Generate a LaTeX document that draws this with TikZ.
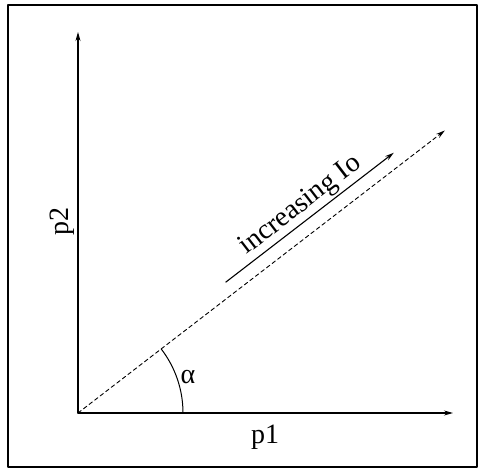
\documentclass[tikz,border=0pt]{standalone}
\usepackage{fontspec}
\setmainfont{Liberation Serif}
\usetikzlibrary{arrows.meta,calc}

\begin{document}
\begin{tikzpicture}[x=1pt, y=1pt, line cap=round, line join=round,
		>={Stealth[length=9pt,width=5pt]},
		lbl/.style={font=\fontsize{28}{32}\selectfont, inner sep=1pt}]
	% Define the slope of the dashed ray and the picture bounds
	\def\ang{37.6}
	\def\xmin{-78} \def\xmax{401}
	\def\ymin{-57} \def\ymax{413}
	\useasboundingbox (\xmin,\ymin) rectangle (\xmax,\ymax);
	
	% Outer frame
	\draw[line width=1.6pt] (-70,-54) rectangle (399,408);
	
	% Key points
	\coordinate (O) at (0,0);
	\coordinate (xend) at (375,0);
	\coordinate (yend) at (0,381);
	\coordinate (dend) at (\ang:463);
	\coordinate (a1) at ($(\ang:197)+(\ang+90:13.5)$);
	\coordinate (a2) at ($(\ang:409)+(\ang+90:13.5)$);
	
	% Coordinate axes
	\draw[->, line width=1.1pt] (O) -- (xend);
	\draw[->, line width=1.1pt] (O) -- (yend);
	
	% Dashed ray and the angle it makes with p1
	\draw[->, line width=0.9pt, dash pattern=on 4pt off 3pt] (O) -- (dend);
	\draw[line width=1pt] (105,0) arc (0:\ang:105);
	
	% Arrow parallel to the ray
	\draw[->, line width=1.1pt] (a1) -- (a2)
		node[lbl, midway, above, sloped, yshift=1pt] (inc) {increasing Io};
	
	% Labels
	\node[lbl] (alpha) at (110,36) {α};
	\node[lbl] (p1) at (187,-24) {p1};
	\node[lbl, rotate=90] (p2) at (-16,191) {p2};
\end{tikzpicture}
\end{document}
